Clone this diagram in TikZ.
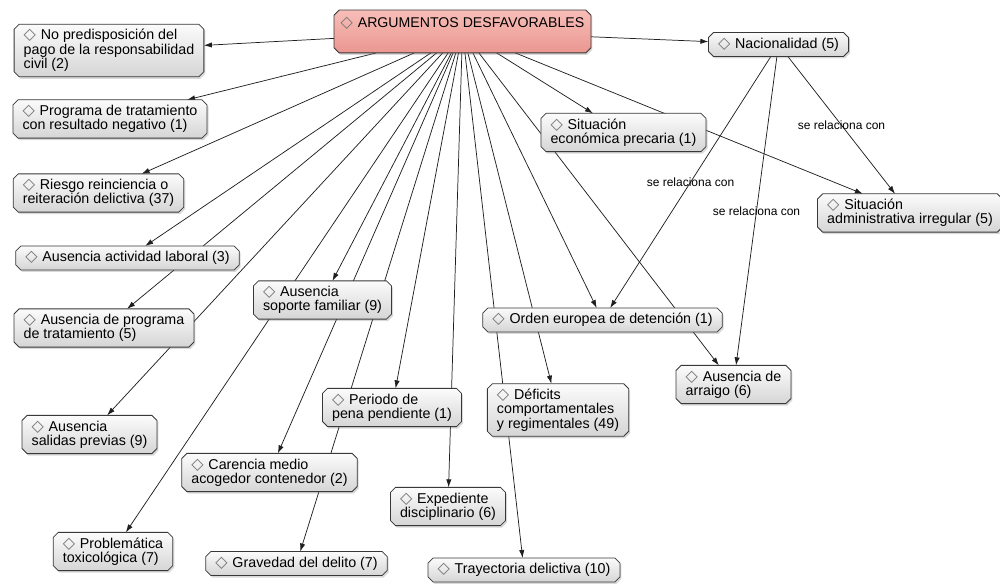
\documentclass[tikz,border=0pt]{standalone}
\usepackage{fontspec}
\setmainfont{Liberation Sans}
\newfontfamily\symfont{DejaVu Sans}
\usetikzlibrary{arrows.meta,shadows}
\pgfdeclarelayer{background}
\pgfdeclarelayer{boxes}
\pgfsetlayers{background,boxes,main}
\newcommand{\dm}{\vrule height 7.9pt depth 2.3pt width 0pt\smash{\symfont\fontsize{12}{12}\selectfont\color{black!55}◇}\hspace{3.6pt}}
\newcommand{\chamf}[2]{\path[#1] ([xshift=3.8pt]#2.north west) -- ([xshift=-3.8pt]#2.north east)
  -- ([yshift=-3.8pt]#2.north east) -- ([yshift=3.8pt]#2.south east)
  -- ([xshift=-3.8pt]#2.south east) -- ([xshift=3.8pt]#2.south west)
  -- ([yshift=3.8pt]#2.south west) -- ([yshift=-3.8pt]#2.north west) -- cycle;}
\begin{document}
\begin{tikzpicture}[x=0.75pt,y=-0.75pt,
  concept/.style={rectangle, align=left, inner xsep=7.2pt, inner ysep=3.9pt, outer sep=0pt,
    font=\fontsize{10.7}{10.8}\selectfont},
  root/.style={rectangle, inner xsep=5pt, inner ysep=4pt, outer sep=0pt,
    text height=8.8pt, text depth=15.3pt, font=\fontsize{10.6}{10.8}\selectfont},
  graybox/.style={draw=black!78, line width=0.6pt, top color=gray!3, bottom color=gray!33,
    drop shadow={shadow xshift=1.1pt, shadow yshift=-1.5pt, opacity=0.3}},
  pinkbox/.style={graybox, top color={rgb,255:red,248;green,190;blue,184},
    bottom color={rgb,255:red,234;green,150;blue,144}},
  link/.style={draw=black!88, line width=0.55pt, -{Latex[length=6pt,width=4pt]}},
  dotlbl/.style={font=\tiny, inner sep=0pt, text=black!50},
  rel/.style={font=\fontsize{9}{10}\selectfont, inner sep=1pt}
]
\useasboundingbox (0,0) rectangle (1000,584);

\node[root] (c) at (462.5,31.5) {\dm ARGUMENTOS DESFAVORABLES};
\node[concept] (np) at (109,50.5) {\dm No predisposición del\\pago de la responsabilidad\\civil (2)};
\node[concept] (prog) at (110,119) {\dm Programa de tratamiento\\con resultado negativo (1)};
\node[concept] (ries) at (98.5,193) {\dm Riesgo reinciencia o\\reiteración delictiva (37)};
\node[concept] (lab) at (127.5,258) {\dm Ausencia actividad laboral (3)};
\node[concept] (aprog) at (104,328) {\dm Ausencia de programa\\de tratamiento (5)};
\node[concept] (sal) at (89.5,434.5) {\dm Ausencia\\salidas previas (9)};
\node[concept] (sop) at (322.5,300) {\dm Ausencia\\soporte familiar (9)};
\node[concept] (per) at (392,407.5) {\dm Periodo de\\pena pendiente (1)};
\node[concept] (car) at (269.5,472.5) {\dm Carencia medio\\acogedor contenedor (2)};
\node[concept] (tox) at (113,551.5) {\dm Problemática\\toxicológica (7)};
\node[concept] (grav) at (296.5,563.5) {\dm Gravedad del delito (7)};
\node[concept] (exp) at (448,506.5) {\dm Expediente\\disciplinario (6)};
\node[concept] (tray) at (524,570) {\dm Trayectoria delictiva (10)};
\node[concept] (def) at (558,410) {\dm Déficits\\comportamentales\\y regimentales (49)};
\node[concept] (ord) at (602.5,320) {\dm Orden europea de detención (1)};
\node[concept] (arr) at (733.5,384.5) {\dm Ausencia de\\arraigo (6)};
\node[concept] (eco) at (623.5,132.5) {\dm Situación\\económica precaria (1)};
\node[concept] (adm) at (910,213) {\dm Situación\\administrativa irregular (5)};
\node[concept] (nac) at (778.5,44.5) {\dm Nacionalidad (5)};

\begin{pgfonlayer}{boxes}
\chamf{pinkbox}{c}
\foreach \n in {np,prog,ries,lab,aprog,sal,sop,per,car,tox,grav,exp,tray,def,ord,arr,eco,adm,nac}
  {\chamf{graybox}{\n}}
\end{pgfonlayer}

\begin{pgfonlayer}{background}
\foreach \t in {np,prog,ries,lab,aprog,sal,sop,tox,car,grav,per,exp,tray,def,ord,arr,eco,adm,nac}
  \draw[link] (c) -- node[dotlbl]{.} (\t);
\draw[link] (nac) -- node[rel]{se relaciona con} (ord);
\draw[link] (nac) -- node[rel]{se relaciona con} (arr);
\draw[link] (nac) -- node[rel]{se relaciona con} (adm);
\end{pgfonlayer}
\end{tikzpicture}
\end{document}
